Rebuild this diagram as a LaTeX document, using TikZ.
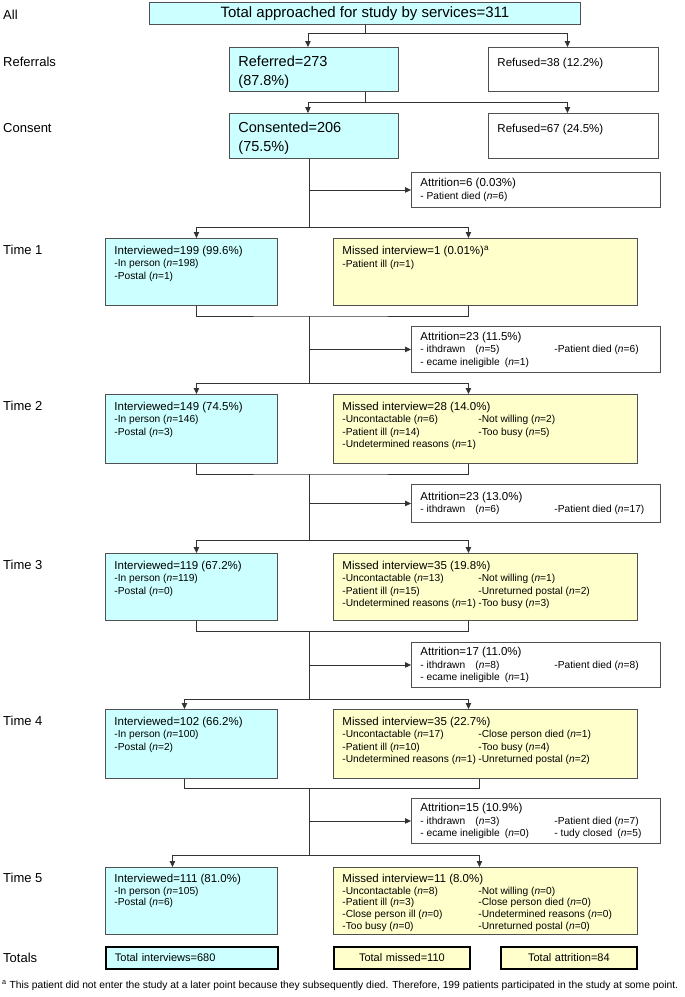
\documentclass[tikz,border=0pt]{standalone}
\usepackage{fontspec}
\setmainfont{Liberation Sans}
\usetikzlibrary{arrows.meta}
\newcommand{\boxtxt}[3]{\begin{minipage}[t][#2][t]{#1}#3\end{minipage}}
\newcommand{\boxmid}[3]{\begin{minipage}[t][#2][c]{#1}#3\end{minipage}}
\newcommand{\hdf}{\fontsize{11.5}{12.5}\selectfont}
\newcommand{\smf}{\fontsize{10.2}{12.5}\selectfont}
\newcommand{\smft}{\fontsize{10.2}{11.8}\selectfont}
\newcommand{\nn}[1]{(\textit{n}=#1)}
\newcommand{\lcol}[2]{\makebox[#1][l]{#2}}
\definecolor{cyanfill}{HTML}{CCFFFF}
\definecolor{yelfill}{HTML}{FFFFCC}
\definecolor{edgegray}{HTML}{505050}

\begin{document}
\begin{tikzpicture}[x=1pt, y=-1pt,
  box/.style={draw=edgegray, line width=0.9pt, inner xsep=9pt, inner ysep=0pt, anchor=north west},
  cbox/.style={box, fill=cyanfill},
  ybox/.style={box, fill=yelfill},
  wbox/.style={box, fill=white},
  tbox/.style={draw=black, line width=1.8pt, inner xsep=9pt, inner ysep=0pt, minimum height=22pt,
    anchor=north west, font=\fontsize{11}{13}\selectfont},
  lab/.style={anchor=base west, inner sep=0pt, font=\fontsize{13}{15}\selectfont},
  lnk/.style={draw=black!80, line width=0.9pt},
  arr/.style={lnk, -{Triangle[length=6pt, width=5.5pt]}},
  ]
\useasboundingbox (0,0) rectangle (685,997);

% row labels
\path (3,19) node[lab](lall){All};
\path (3,66) node[lab](lref){Referrals};
\path (3,132) node[lab](lcon){Consent};
\path (3,254) node[lab](lt1){Time 1};
\path (3,410) node[lab](lt2){Time 2};
\path (3,569) node[lab](lt3){Time 3};
\path (3,725) node[lab](lt4){Time 4};
\path (3,882) node[lab](lt5){Time 5};
\path (3,962) node[lab](ltot){Totals};

% recruitment
\path (149,2) node[cbox, minimum width=431pt, minimum height=22pt, inner sep=0pt,
  font=\fontsize{15}{18}\selectfont](top){Total approached for study by services=311};
\path (229,47) node[cbox](ref){\boxtxt{151pt}{44pt}{\vspace*{8.4pt}\fontsize{14.5}{19}\selectfont Referred=273\\(87.8\%)}};
\path (488,47) node[wbox](rfs1){\boxtxt{152pt}{44pt}{\vspace*{10.6pt}\hdf Refused=38 (12.2\%)}};
\path (229,113) node[cbox](con){\boxtxt{151pt}{45pt}{\vspace*{9pt}\fontsize{14.5}{19}\selectfont Consented=206\\(75.5\%)}};
\path (488,113) node[wbox](rfs2){\boxtxt{152pt}{45pt}{\vspace*{10.6pt}\hdf Refused=67 (24.5\%)}};
\path (411,172) node[wbox](att0){\boxmid{231pt}{35pt}{{\hdf Attrition=6 (0.03\%)}\\\smf - Patient died \nn{6}}};

% time 1
\path (105,238) node[cbox](int1){\boxtxt{154pt}{67pt}{\vspace*{7.6pt}{\hdf Interviewed=199 (99.6\%)}\\\smf
  -In person \nn{198}\\-Postal \nn{1}}};
\path (333,238) node[ybox](mis1){\boxtxt{286pt}{67pt}{\vspace*{7.6pt}{\hdf Missed interview=1 (0.01\%)\textsuperscript{a}}\\\smf
  -Patient ill \nn{1}}};
\path (411,326) node[wbox](att1){\boxmid{231pt}{46pt}{{\hdf Attrition=23 (11.5\%)}\\\smf
  \lcol{134pt}{- ithdrawn\quad\nn{5}}-Patient died \nn{6}\\- ecame ineligible\enspace\nn{1}}};

% time 2
\path (105,394) node[cbox](int2){\boxtxt{154pt}{69pt}{\vspace*{7.6pt}{\hdf Interviewed=149 (74.5\%)}\\\smf
  -In person \nn{146}\\-Postal \nn{3}}};
\path (333,394) node[ybox](mis2){\boxtxt{286pt}{69pt}{\vspace*{7.6pt}{\hdf Missed interview=28 (14.0\%)}\\\smf
  \lcol{136pt}{-Uncontactable \nn{6}}-Not willing \nn{2}\\
  \lcol{136pt}{-Patient ill \nn{14}}-Too busy \nn{5}\\
  -Undetermined reasons \nn{1}}};
\path (411,484) node[wbox](att2){\boxmid{231pt}{38pt}{{\hdf Attrition=23 (13.0\%)}\\\smf
  \lcol{134pt}{- ithdrawn\quad\nn{6}}-Patient died \nn{17}}};

% time 3
\path (105,553) node[cbox](int3){\boxtxt{154pt}{67pt}{\vspace*{7.6pt}{\hdf Interviewed=119 (67.2\%)}\\\smf
  -In person \nn{119}\\-Postal \nn{0}}};
\path (333,553) node[ybox](mis3){\boxtxt{286pt}{67pt}{\vspace*{7.6pt}{\hdf Missed interview=35 (19.8\%)}\\\smf
  \lcol{136pt}{-Uncontactable \nn{13}}-Not willing \nn{1}\\
  \lcol{136pt}{-Patient ill \nn{15}}-Unreturned postal \nn{2}\\
  \lcol{136pt}{-Undetermined reasons \nn{1}}-Too busy \nn{3}}};
\path (411,642) node[wbox](att3){\boxmid{231pt}{45pt}{{\hdf Attrition=17 (11.0\%)}\\\smf
  \lcol{134pt}{- ithdrawn\quad\nn{8}}-Patient died \nn{8}\\- ecame ineligible\enspace\nn{1}}};

% time 4
\path (105,709) node[cbox](int4){\boxtxt{154pt}{69pt}{\vspace*{7.6pt}{\hdf Interviewed=102 (66.2\%)}\\\smf
  -In person \nn{100}\\-Postal \nn{2}}};
\path (333,709) node[ybox](mis4){\boxtxt{286pt}{69pt}{\vspace*{7.6pt}{\hdf Missed interview=35 (22.7\%)}\\\smf
  \lcol{136pt}{-Uncontactable \nn{17}}-Close person died \nn{1}\\
  \lcol{136pt}{-Patient ill \nn{10}}-Too busy \nn{4}\\
  \lcol{136pt}{-Undetermined reasons \nn{1}}-Unreturned postal \nn{2}}};
\path (411,798) node[wbox](att4){\boxmid{231pt}{45pt}{{\hdf Attrition=15 (10.9\%)}\\\smf
  \lcol{134pt}{- ithdrawn\quad\nn{3}}-Patient died \nn{7}\\
  \lcol{134pt}{- ecame ineligible\enspace\nn{0}}- tudy closed\enspace\nn{5}}};

% time 5
\path (105,867) node[cbox](int5){\boxtxt{154pt}{67pt}{\vspace*{6.6pt}{\hdf Interviewed=111 (81.0\%)}\\\smft
  -In person \nn{105}\\-Postal \nn{6}}};
\path (333,867) node[ybox](mis5){\boxtxt{286pt}{67pt}{\vspace*{6.6pt}{\hdf Missed interview=11 (8.0\%)}\\\smft
  \lcol{136pt}{-Uncontactable \nn{8}}-Not willing \nn{0}\\
  \lcol{136pt}{-Patient ill \nn{3}}-Close person died \nn{0}\\
  \lcol{136pt}{-Close person ill \nn{0}}-Undetermined reasons \nn{0}\\
  \lcol{136pt}{-Too busy \nn{0}}-Unreturned postal \nn{0}}};

% totals
\path (105,946) node[tbox, fill=cyanfill, text width=154pt, align=left](tint){Total interviews=680};
\path (333,946) node[tbox, fill=yelfill, text width=118pt, align=center](tmis){Total missed=110};
\path (500,946) node[tbox, fill=yelfill, text width=118pt, align=center](tatt){Total attrition=84};

\path (2,988) node[anchor=base west, inner sep=0pt, font=\fontsize{10.3}{12}\selectfont](fnote){\textsuperscript{a} This
  patient did not enter the study at a later point because they subsequently died. Therefore, 199 patients participated in the study at some point.};

% connectors
\coordinate (j0) at (top.south |- 0,33);
\draw[lnk] (top.south) -- (j0);
\draw[arr] (j0) -| ([xshift=-6pt]ref.north);
\draw[arr] (j0) -| ([xshift=-6pt]rfs1.north);

\coordinate (jr) at (top.south |- 0,102);
\draw[lnk] (ref.south -| jr) -- (jr);
\draw[arr] (jr) -| ([xshift=-6pt]con.north);
\draw[arr] (jr) -| ([xshift=-6pt]rfs2.north);

\coordinate (j1) at (309,227);
\draw[lnk] (con.south -| j1) -- (j1);
\draw[arr] (j1 |- att0.west) -- (att0.west);
\draw[arr] (j1) -| ([xshift=5pt]int1.north);
\draw[arr] (j1) -| ([xshift=-17pt]mis1.north);

\coordinate (m1) at (309,316);
\coordinate (j2) at (309,383);
\draw[lnk] ([xshift=5pt]int1.south) |- (m1) -| ([xshift=-17pt]mis1.south);
\draw[lnk] (m1) -- (j2);
\draw[arr] (m1 |- att1.west) -- (att1.west);
\draw[arr] (j2) -| ([xshift=5pt]int2.north);
\draw[arr] (j2) -| ([xshift=-17pt]mis2.north);

\coordinate (m2) at (309,474);
\coordinate (j3) at (309,540);
\draw[lnk] ([xshift=5pt]int2.south) |- (m2) -| ([xshift=-17pt]mis2.south);
\draw[lnk] (m2) -- (j3);
\draw[arr] (m2 |- att2.west) -- (att2.west);
\draw[arr] (j3) -| ([xshift=5pt]int3.north);
\draw[arr] (j3) -| ([xshift=-17pt]mis3.north);

\coordinate (m3) at (309,631);
\coordinate (j4) at (309,699);
\draw[lnk] ([xshift=5pt]int3.south) |- (m3) -| ([xshift=-17pt]mis3.south);
\draw[lnk] (m3) -- (j4);
\draw[arr] (m3 |- att3.west) -- (att3.west);
\draw[arr] (j4) -| ([xshift=-7pt]int4.north);
\draw[arr] (j4) -| ([xshift=-17pt]mis4.north);

\coordinate (m4) at (309,788);
\coordinate (j5) at (309,855);
\draw[lnk] ([xshift=-7pt]int4.south) |- (m4) -| ([xshift=-6pt]mis4.south);
\draw[lnk] (m4) -- (j5);
\draw[arr] (m4 |- att4.west) -- (att4.west);
\draw[arr] (j5) -| ([xshift=-19pt]int5.north);
\draw[arr] (j5) -| ([xshift=-6pt]mis5.north);

\end{tikzpicture}
\end{document}
